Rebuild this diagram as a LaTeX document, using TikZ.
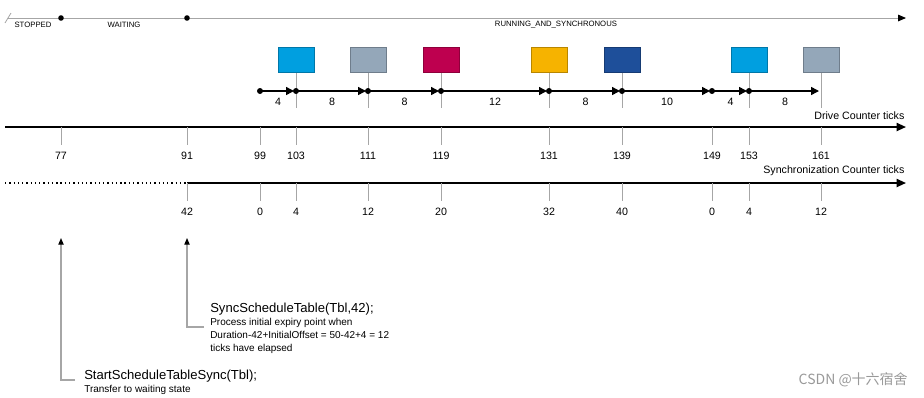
\documentclass[tikz,border=0pt]{standalone}
\usepackage{fontspec}
\setmainfont{Liberation Sans}
\newfontfamily\cjkfont{Noto Sans CJK SC}
\usepackage{xcolor}
\usetikzlibrary{arrows.meta,positioning}

\definecolor{epcyan}{HTML}{009FE0}
\definecolor{epgray}{HTML}{94A7B9}
\definecolor{epred}{HTML}{BE004F}
\definecolor{epyellow}{HTML}{F6B300}
\definecolor{epblue}{HTML}{1E4F9A}

\tikzset{
  epbox/.style={rectangle, minimum width=27pt, minimum height=19pt, inner sep=0pt, fill=#1, draw=#1!75!black, thin},
  ticklbl/.style={font=\fontsize{8}{9}\selectfont, text=black, inner sep=1pt},
  statelbl/.style={font=\fontsize{5.8}{7}\selectfont, inner sep=0pt},
  axis/.style={line width=1.4pt, -{Triangle[length=7pt,width=6pt]}},
  tickline/.style={gray!70, line width=0.6pt},
  callline/.style={gray!70, line width=0.8pt, -{Triangle[length=5pt,width=4pt,fill=black,color=black]}}
}

\begin{document}
\begin{tikzpicture}[x=0.75pt,y=-0.75pt]
\useasboundingbox (0,0) rectangle (924,397);

% states
\coordinate (sStart) at (8,18);
\coordinate (sEnd) at (906,18);
\coordinate (sStop) at (61,18);
\coordinate (sWait) at (187,18);
\draw[gray!70, line width=0.6pt] (5,23) -- (11,13);
\draw[gray!70, line width=0.7pt, -{Triangle[length=6pt,width=5pt,fill=black,color=black]}] (sStart) -- (sEnd);
\fill (sStop) circle (2.8);
\fill (sWait) circle (2.8);
\node[statelbl] (stopped) at (33,25) {STOPPED};
\node[statelbl] (waiting) at (124,25) {WAITING};
\node[statelbl] (running) at (556,25) {RUNNING\_AND\_SYNCHRONOUS};

% expiry points
\foreach \x/\c [count=\i] in {296/epcyan,368/epgray,441/epred,549/epyellow,622/epblue,749/epcyan,821/epgray}{
  \node[epbox=\c] (box\i) at (\x,60) {};
  \coordinate (boxfoot\i) at (\x,108);
  \draw[tickline] (box\i.south) -- (boxfoot\i);
}

\foreach \x [count=\i from 0] in {260,296,368,441,549,622,712,749,821}
  \coordinate (e\i) at (\x,91);
\foreach \i/\j/\d in {0/1/4,1/2/8,2/3/8,3/4/12,4/5/8,5/6/10,6/7/4,7/8/8}
  \draw[line width=1.1pt, -{Triangle[length=6pt,width=6pt]}, shorten >=1.5pt] (e\i) -- node[ticklbl, below=4pt] {\d} (e\j);
\foreach \i in {0,...,7}
  \fill (e\i) circle (3);

% drive counter
\coordinate (dStart) at (5,127);
\coordinate (dEnd) at (906,127);
\draw[axis] (dStart) -- (dEnd);
\node[ticklbl, anchor=south east] (drivelbl) at (906,121) {Drive Counter ticks};
\foreach \x/\t in {61/77,187/91,260/99,296/103,368/111,441/119,549/131,622/139,712/149,749/153,821/161}{
  \coordinate (dt\t) at (\x,127);
  \draw[tickline] (dt\t) -- ++(0,18) node[ticklbl, below=4pt] (dl\t) {\t};
}

% synchronization counter
\coordinate (yStart) at (5,183);
\coordinate (yMid) at (187,183);
\coordinate (yEnd) at (906,183);
\draw[line width=1pt, dash pattern=on 1pt off 2.2pt] (yStart) -- (yMid);
\draw[axis] (yMid) -- (yEnd);
\node[ticklbl, anchor=south east] (synclbl) at (906,177) {Synchronization Counter ticks};
\foreach \x/\t [count=\i] in {187/42,260/0,296/4,368/12,441/20,549/32,622/40,712/0,749/4,821/12}{
  \coordinate (yt\i) at (\x,183);
  \draw[tickline] (yt\i) -- ++(0,18) node[ticklbl, below=4pt] (yl\i) {\t};
}

% calls
\coordinate (aStart) at (61,238);
\coordinate (aSync) at (187,238);
\coordinate (fStart) at (75,380);
\coordinate (fSync) at (204,327);
\draw[callline] (fStart) -| (aStart);
\draw[callline] (fSync) -| (aSync);

\node[anchor=west, inner sep=0pt, font=\fontsize{9.8}{11}\selectfont] (startcall) at (84,376) {StartScheduleTableSync(Tbl);};
\node[anchor=north west, inner sep=0pt, font=\fontsize{7.5}{9}\selectfont] (startnote) at (84,385) {Transfer to waiting state};

\node[anchor=west, inner sep=0pt, font=\fontsize{9.8}{11}\selectfont] (synccall) at (210,309) {SyncScheduleTable(Tbl,42);};
\node[anchor=north west, inner sep=0pt, align=left, font=\fontsize{7.5}{9.8}\selectfont] (syncnote) at (210,318)
  {Process initial expiry point when\\Duration-42+InitialOffset = 50-42+4 = 12\\ticks have elapsed};

\node[anchor=east, inner sep=0pt, text=gray!80, font=\cjkfont\fontsize{10.5}{12}\selectfont] (mark) at (908,380) {CSDN @十六宿舍};
\end{tikzpicture}
\end{document}
